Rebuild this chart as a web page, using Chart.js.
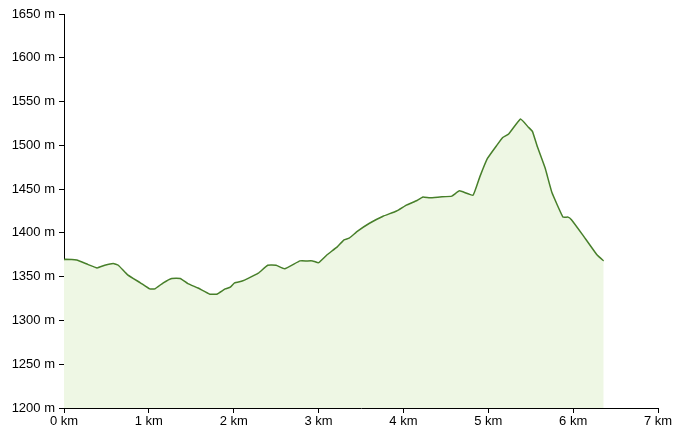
<!DOCTYPE html>
<html>
<head>
<meta charset="utf-8">
<script src="https://cdn.jsdelivr.net/npm/chart.js@4"></script>
<style>
  html, body { margin: 0; padding: 0; background: #fff; }
  #wrap { width: 682px; height: 439px; }
</style>
</head>
<body>
<div id="wrap"><canvas id="profile" width="682" height="439"></canvas></div>
<script>
// distance along the track (km) and elevation (m)
const distKm = [0.00, 0.01, 0.15, 0.28, 0.39, 0.48, 0.58, 0.64, 0.75, 0.90, 1.01, 1.07, 1.17, 1.27, 1.37, 1.46, 1.58, 1.72, 1.80, 1.90, 1.96, 2.01, 2.10, 2.17, 2.29, 2.40, 2.50, 2.60, 2.78, 2.86, 2.93, 3.00, 3.10, 3.22, 3.30, 3.36, 3.46, 3.60, 3.76, 3.92, 4.04, 4.16, 4.23, 4.31, 4.43, 4.57, 4.66, 4.82, 4.90, 4.99, 5.10, 5.17, 5.24, 5.38, 5.47, 5.52, 5.58, 5.67, 5.75, 5.88, 5.94, 5.98, 6.11, 6.28, 6.36];
const elevM = [1369, 1370, 1369, 1364, 1360, 1363, 1365, 1363, 1352, 1343, 1336, 1336, 1343, 1348, 1348, 1342, 1337, 1330, 1330, 1336, 1338, 1343, 1345, 1348, 1354, 1363, 1363, 1359, 1368, 1368, 1368, 1366, 1375, 1384, 1392, 1394, 1402, 1411, 1419, 1425, 1432, 1437, 1441, 1440, 1441, 1442, 1448, 1443, 1464, 1485, 1500, 1509, 1513, 1530, 1521, 1516, 1498, 1474, 1446, 1418, 1418, 1415, 1398, 1375, 1368];

const xTicks = [0, 1, 2, 3, 4, 5, 6, 7];
const yTicks = [1200, 1250, 1300, 1350, 1400, 1450, 1500, 1550, 1600, 1650];

const points = distKm.map((d, i) => ({ x: d, y: elevM[i] }));

const axisFont = { family: 'Liberation Sans, Arial, sans-serif', size: 13 };

const ctx = document.getElementById('profile').getContext('2d');
new Chart(ctx, {
  type: 'line',
  data: {
    datasets: [{
      data: points,
      borderColor: '#477f2a',
      borderWidth: 1.5,
      backgroundColor: '#eef7e4',
      fill: 'start',
      pointRadius: 0,
      tension: 0.1,
    }],
  },
  options: {
    responsive: false,
    animation: false,
    layout: { padding: { top: 14, right: 24, left: 0, bottom: 0 } },
    plugins: {
      legend: { display: false },
      tooltip: { enabled: false },
    },
    scales: {
      x: {
        type: 'linear',
        min: 0,
        max: 7,
        afterBuildTicks: (axis) => { axis.ticks = xTicks.map(v => ({ value: v })); },
        afterFit: (axis) => { axis.height = 31; },
        grid: { display: true, drawOnChartArea: false, drawTicks: true, tickLength: 5, color: '#000' },
        border: { display: true, color: '#000', width: 1 },
        ticks: {
          color: '#000',
          font: axisFont,
          padding: 1,
          maxRotation: 0,
          callback: (v) => v + ' km',
        },
      },
      y: {
        min: 1200,
        max: 1650,
        afterBuildTicks: (axis) => { axis.ticks = yTicks.map(v => ({ value: v })); },
        afterFit: (axis) => { axis.width = 64; },
        grid: { display: true, drawOnChartArea: false, drawTicks: true, tickLength: 5, color: '#000' },
        border: { display: true, color: '#000', width: 1 },
        ticks: {
          color: '#000',
          font: axisFont,
          padding: 4,
          callback: (v) => v + ' m',
        },
      },
    },
  },
});
</script>
</body>
</html>
